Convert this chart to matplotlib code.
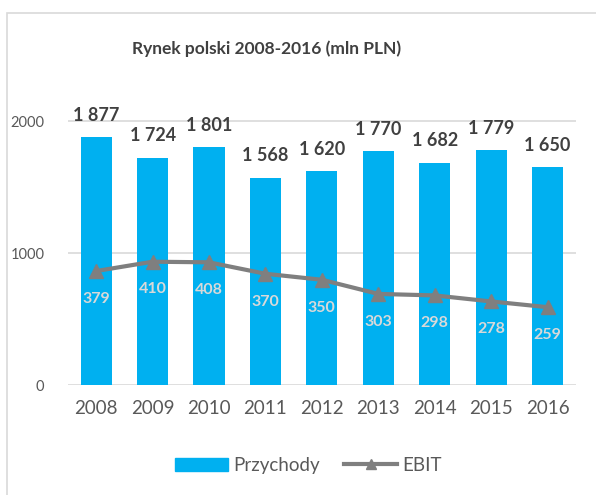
import matplotlib
matplotlib.use("Agg")
import matplotlib.pyplot as plt
from matplotlib.patches import Rectangle
from matplotlib.lines import Line2D

# dane
lata = ["2008", "2009", "2010", "2011", "2012", "2013", "2014", "2015", "2016"]
przychody = [1877, 1724, 1801, 1568, 1620, 1770, 1682, 1779, 1650]
ebit = [379, 410, 408, 370, 350, 303, 298, 278, 259]
y_ticks = [0, 1000, 2000]

plt.rcParams['font.family'] = ['Lato', 'DejaVu Sans']

NIEBIESKI = "#00B0F0"
SZARY = "#7F7F7F"
TEKST = "#595959"

fig = plt.figure(figsize=(5.96, 4.95), dpi=100)
ax = fig.add_axes([0.114, 0.222, 0.852, 0.56])

x = list(range(len(lata)))
ax.bar(x, przychody, width=0.55, color=NIEBIESKI, zorder=2)
ax.set_xlim(-0.5, len(lata) - 0.5)
ymax = 2100
ax.set_ylim(0, ymax)
ax.set_yticks(y_ticks)
ax.set_xticks(x)
ax.set_xticklabels(lata)
ax.grid(axis='y', color="#D9D9D9", linewidth=1.2, zorder=0)
for s in ax.spines.values():
    s.set_visible(False)
ax.tick_params(axis='both', length=0, colors=TEKST)
ax.tick_params(axis='x', labelsize=13.5, pad=11)
ax.tick_params(axis='y', labelsize=10.5, pad=17)

for xi, v in zip(x, przychody):
    ax.annotate(f"{v:,}".replace(",", " "), (xi, v), xytext=(0, 16),
                textcoords='offset points', ha='center', va='center',
                fontsize=13, fontweight='bold', color="#404040")

# EBIT na osi pomocniczej (ukrytej)
ax2 = ax.twinx()
ax2.set_ylim(0, ymax / 2.28)
ax2.axis('off')
ax2.plot(x, ebit, color=SZARY, linewidth=3, marker='^', markersize=10, zorder=3)
for xi, v in zip(x, ebit):
    ax2.annotate(str(v), (xi, v), xytext=(0, -20), textcoords='offset points',
                 ha='center', va='center',
                 fontsize=11.5, fontweight='bold', color="#D9D9D9")

fig.text(0.447, 0.902, "Rynek polski 2008-2016 (mln PLN)", ha='center', va='center',
         fontsize=12.5, fontweight='bold', color="#404040")

uchwyty = [Rectangle((0, 0), 1, 1, color=NIEBIESKI),
           Line2D([0], [0], color=SZARY, linewidth=3, marker='^', markersize=7)]
fig.legend(uchwyty, ["Przychody", "EBIT"], loc='center', bbox_to_anchor=(0.518, 0.06),
           ncol=2, frameon=False, fontsize=13.5, labelcolor=TEKST,
           handlelength=2.8, columnspacing=1.3, handletextpad=0.3)

# ramka wykresu
fig.patches.append(Rectangle((7 / 596, -0.02), 1.0, 1 - 13 / 495 + 0.02,
                             transform=fig.transFigure, fill=False,
                             edgecolor="#D9D9D9", linewidth=1.2))

fig.savefig("out.png", dpi=100)
